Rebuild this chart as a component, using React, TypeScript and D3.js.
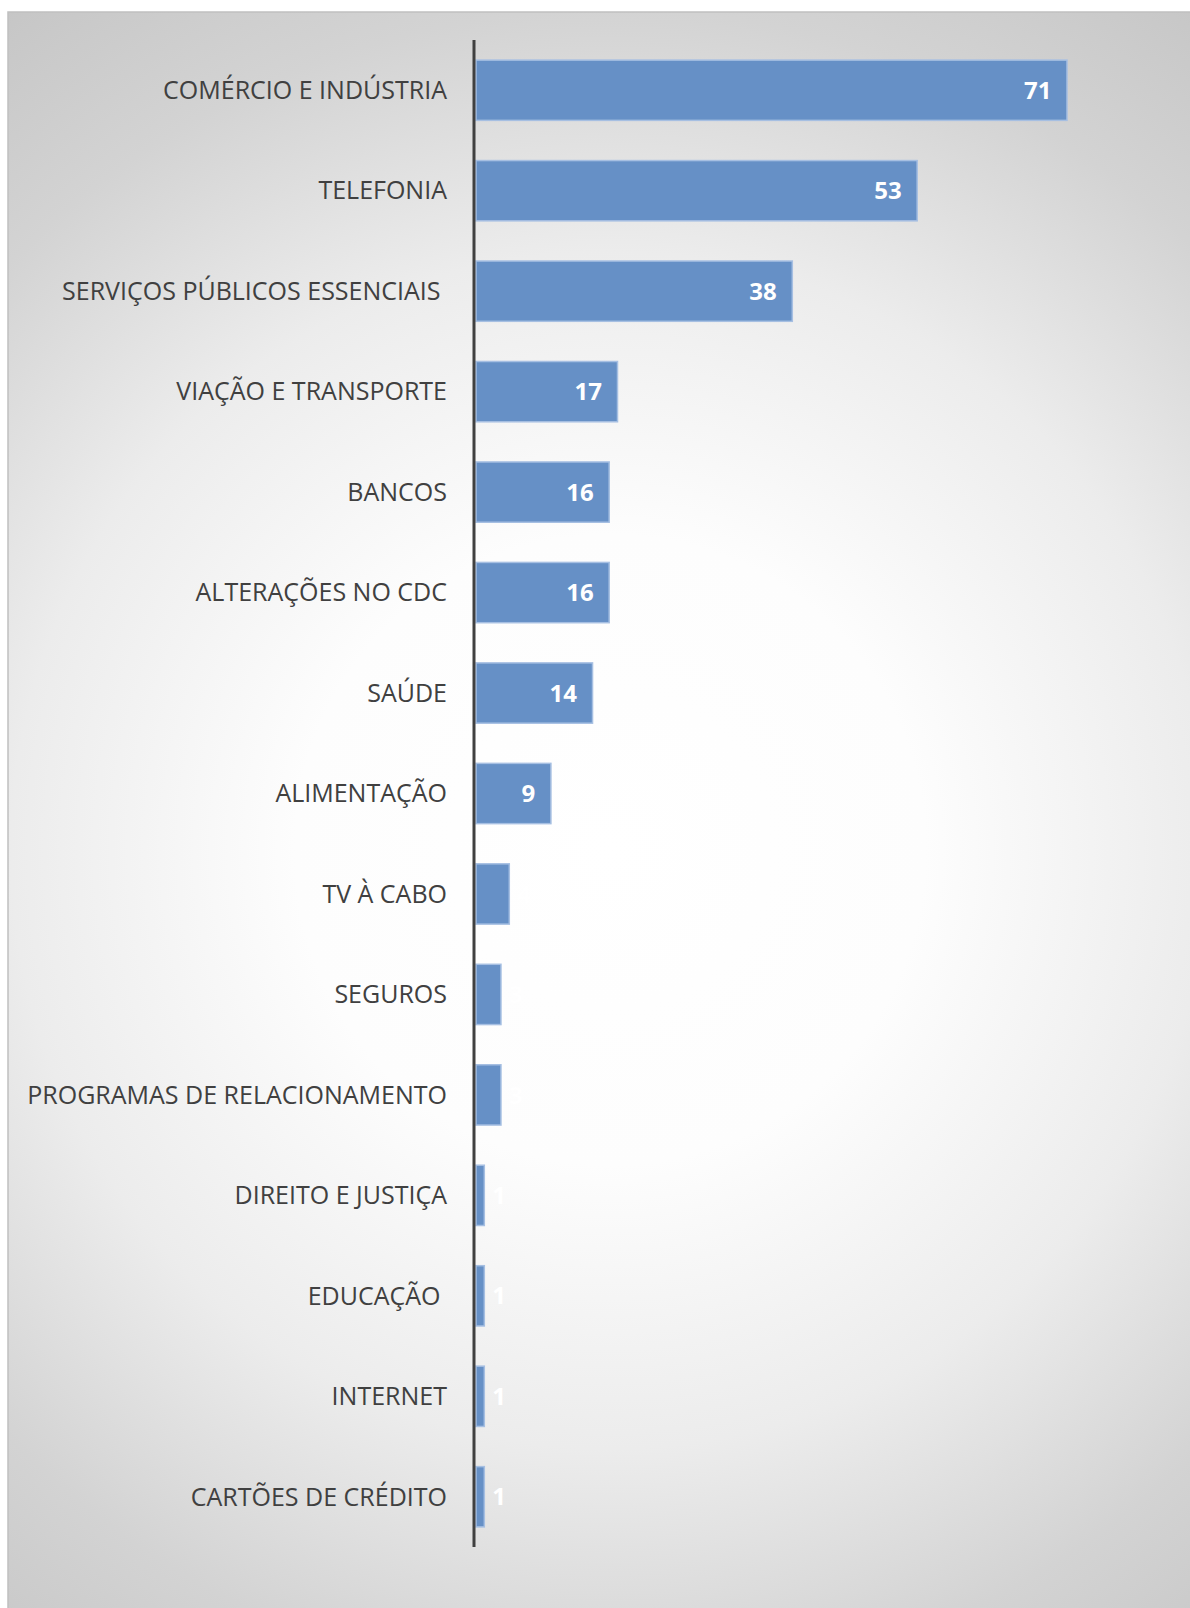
import { useMemo } from "react";
import * as d3 from "d3";

const categories = [
  "COMÉRCIO E INDÚSTRIA",
  "TELEFONIA",
  "SERVIÇOS PÚBLICOS ESSENCIAIS ",
  "VIAÇÃO E TRANSPORTE",
  "BANCOS",
  "ALTERAÇÕES NO CDC",
  "SAÚDE",
  "ALIMENTAÇÃO",
  "TV À CABO",
  "SEGUROS",
  "PROGRAMAS DE RELACIONAMENTO",
  "DIREITO E JUSTIÇA",
  "EDUCAÇÃO ",
  "INTERNET",
  "CARTÕES DE CRÉDITO",
];

const values = [71, 53, 38, 17, 16, 16, 14, 9, 4, 3, 3, 1, 1, 1, 1];

const W = 1190;
const H = 1608;
const FONT = "'Open Sans', 'DejaVu Sans', sans-serif";

export default function App() {
  const rows = categories.map((c, i) => ({ cat: c, value: values[i] }));

  const y = useMemo(
    () =>
      d3
        .scaleBand<string>()
        .domain(categories)
        .range([40, 1547])
        .paddingInner(0.4)
        .paddingOuter(0.2),
    [],
  );

  const x = useMemo(
    () => d3.scaleLinear().domain([0, 71]).range([476, 1067]),
    [],
  );

  const axisX = 474;

  return (
    <svg
      width={W}
      height={H}
      style={{ position: "absolute", left: 0, top: 0, display: "block" }}
    >
      <defs>
        <radialGradient
          id="bg"
          gradientUnits="userSpaceOnUse"
          cx={610}
          cy={850}
          r={1050}
        >
          <stop offset="0" stopColor="#ffffff" />
          <stop offset="0.3" stopColor="#fdfdfd" />
          <stop offset="0.57" stopColor="#ececec" />
          <stop offset="0.8" stopColor="#d3d3d3" />
          <stop offset="1" stopColor="#c5c5c5" />
        </radialGradient>
      </defs>
      <rect x={0} y={0} width={W} height={H} fill="#ffffff" />
      <rect x={8} y={12} width={W} height={H} fill="url(#bg)" stroke="#c0c0c0" strokeWidth={1.5} />

      {rows.map((d) => {
        const by = y(d.cat) ?? 0;
        const bh = y.bandwidth();
        const xe = x(d.value);
        const bw = xe - x(0);
        const w = String(d.value).length * 13.5;
        // inside end when it fits, otherwise just past the bar end
        const lx = bw >= w + 32 ? xe - 16 - w : xe + 8;
        return (
          <g key={d.cat}>
            <rect
              x={x(0)}
              y={by}
              width={bw}
              height={bh}
              fill="#6690c6"
              stroke="#a6bfe2"
              strokeWidth={1.5}
            />
            <text
              x={axisX - 27}
              y={by + bh / 2}
              dy="0.35em"
              textAnchor="end"
              fontFamily={FONT}
              fontSize={25}
              fill="#404040"
              style={{ whiteSpace: "pre" }}
            >
              {d.cat}
            </text>
            <text
              x={lx}
              y={by + bh / 2}
              dy="0.36em"
              fontFamily={FONT}
              fontSize={24}
              fontWeight="bold"
              fill="#ffffff"
            >
              {d.value}
            </text>
          </g>
        );
      })}

      <line x1={axisX} x2={axisX} y1={40} y2={1547} stroke="#404040" strokeWidth={3} />
    </svg>
  );
}
